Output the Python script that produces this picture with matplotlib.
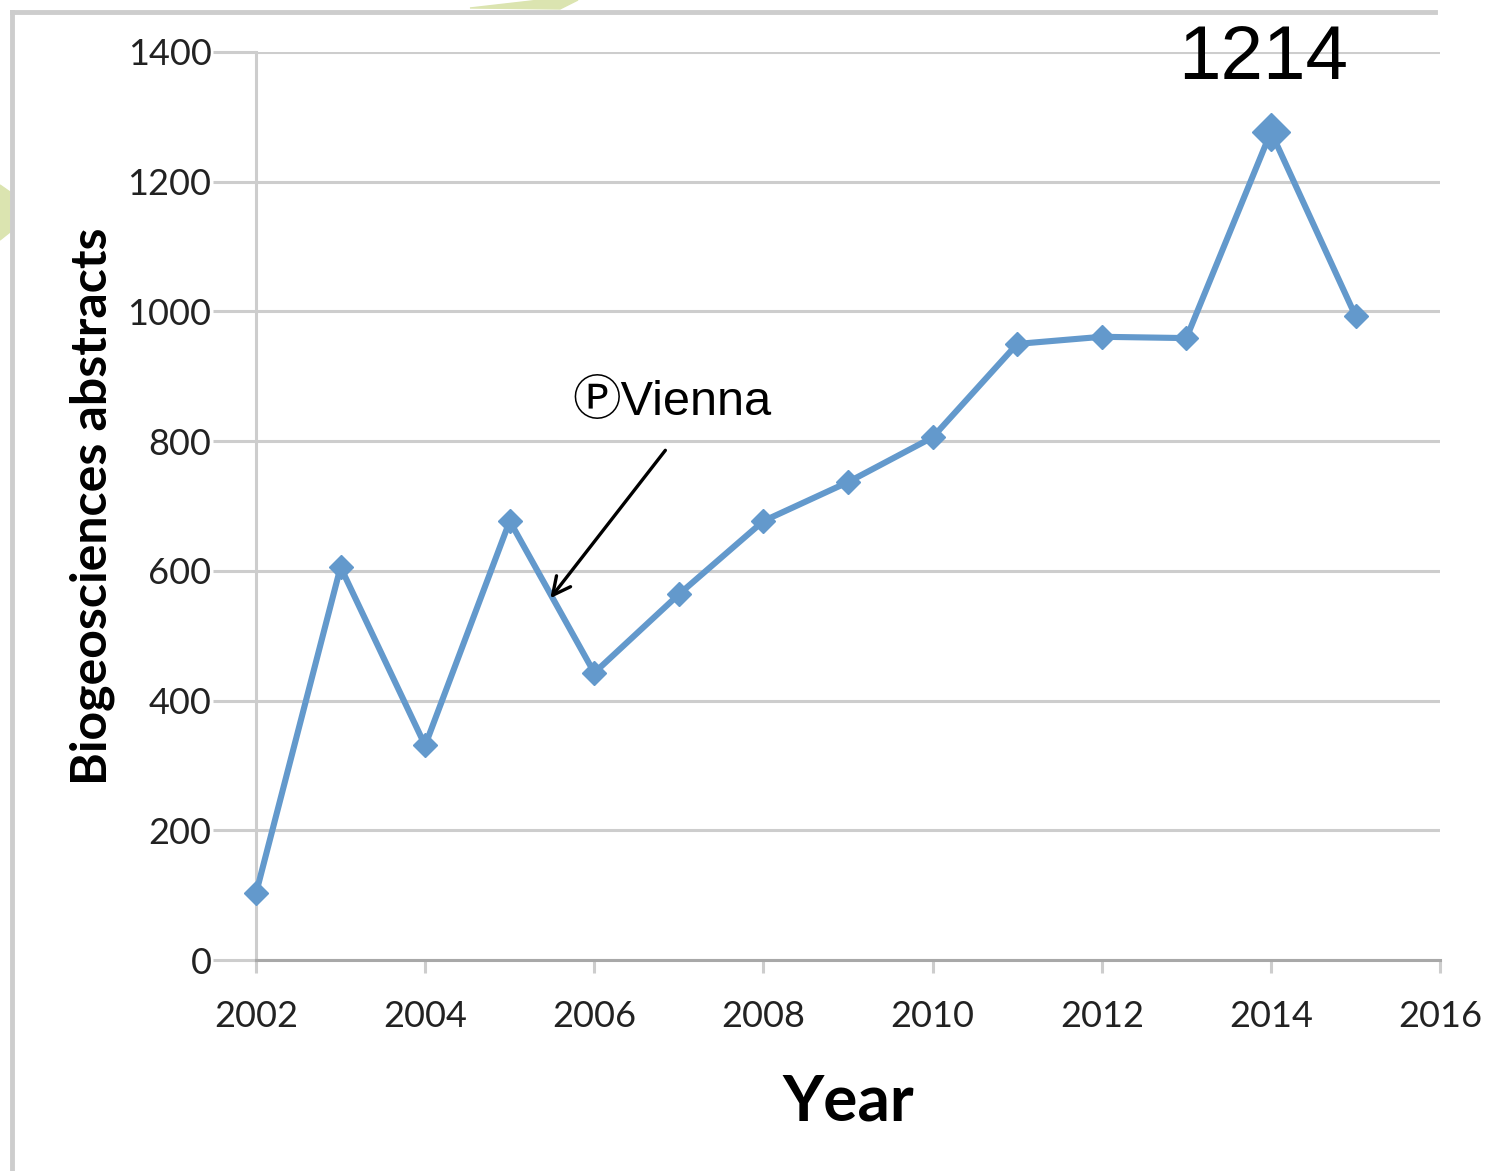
import matplotlib
matplotlib.use("Agg")
import matplotlib.pyplot as plt
from matplotlib.lines import Line2D
from matplotlib.patches import Polygon

years = [2002, 2003, 2004, 2005, 2006, 2007, 2008, 2009, 2010, 2011, 2012, 2013, 2014, 2015]
abstracts = [103, 606, 331, 677, 443, 564, 677, 737, 806, 950, 961, 959, 1277, 993]
x_ticks = [2002, 2004, 2006, 2008, 2010, 2012, 2014, 2016]
y_ticks = [0, 200, 400, 600, 800, 1000, 1200, 1400]
peak_label = "1214"
note_label = "\u24c5Vienna"

line_col = "#6399cc"
grid_col = "#cdcdcd"
fams = ["Liberation Sans", "Noto Sans CJK JP", "DejaVu Sans"]

fig = plt.figure(figsize=(14.97, 11.71), dpi=100)
ax = fig.add_axes([0.171, 0.180, 0.791, 0.7756])

# outer frame of the slide
fig.add_artist(Line2D([12 / 1497, 1435 / 1497], [1 - 12 / 1171] * 2, color=grid_col, lw=3.5))
fig.add_artist(Line2D([12 / 1497] * 2, [0, 1 - 12 / 1171], color=grid_col, lw=3.5))
fig.add_artist(Polygon([[470 / 1497, 1 - 8 / 1171], [540 / 1497, 1], [578 / 1497, 1], [560 / 1497, 1 - 9 / 1171]],
                       closed=True, color="#dbe4b0", transform=fig.transFigure))
fig.add_artist(Polygon([[0, 1 - 185 / 1171], [10 / 1497, 1 - 192 / 1171], [10 / 1497, 1 - 232 / 1171], [0, 1 - 240 / 1171]],
                       closed=True, color="#dbe4b0", transform=fig.transFigure))

ax.plot(years, abstracts, color=line_col, lw=4.4, marker="D", markersize=12, zorder=5, clip_on=False)
peak = abstracts.index(max(abstracts))
ax.plot(years[peak], abstracts[peak], color=line_col, marker="D", markersize=19, zorder=6, clip_on=False)

ax.set_xlim(2002, 2016)
ax.set_ylim(0, 1400)
ax.set_xticks(x_ticks)
ax.set_yticks(y_ticks)
ax.grid(axis="y", color=grid_col, lw=2.2)
ax.set_axisbelow(True)

for s in ["top", "right"]:
    ax.spines[s].set_visible(False)
ax.spines["left"].set_color(grid_col)
ax.spines["left"].set_linewidth(2.2)
ax.spines["bottom"].set_color("#a8a8a8")
ax.spines["bottom"].set_linewidth(2.2)

ax.tick_params(axis="y", length=31, width=2.2, color=grid_col, pad=1, labelsize=26)
ax.tick_params(axis="x", length=9, width=2.2, color=grid_col, pad=20, labelsize=26)
for lab in ax.get_xticklabels() + ax.get_yticklabels():
    lab.set_family("Lato")
    lab.set_color("#222222")

ax.set_xlabel("Year", family="Lato", fontweight="bold", fontsize=46)
ax.xaxis.set_label_coords(0.5, -0.125)
ax.text(-0.138, 0.5, "Biogeosciences abstracts", transform=ax.transAxes, rotation=90,
        ha="center", va="center", family="Lato", fontweight="bold", fontsize=36)

ax.text(2013.91, 1388, peak_label, ha="center", va="center", fontsize=55,
        family=fams, clip_on=False, zorder=10)
ax.text(2006.92, 859, note_label, ha="center", va="center", fontsize=35, family=fams,
        bbox=dict(boxstyle="square,pad=0.3", fc="white", ec="none", alpha=0.6), zorder=10)
ax.annotate("", xy=(2005.48, 558), xytext=(2006.84, 786),
            arrowprops=dict(arrowstyle="->", color="black", lw=2.4, mutation_scale=32,
                            shrinkA=0, shrinkB=0),
            zorder=10)

fig.savefig("out.png", dpi=100)
